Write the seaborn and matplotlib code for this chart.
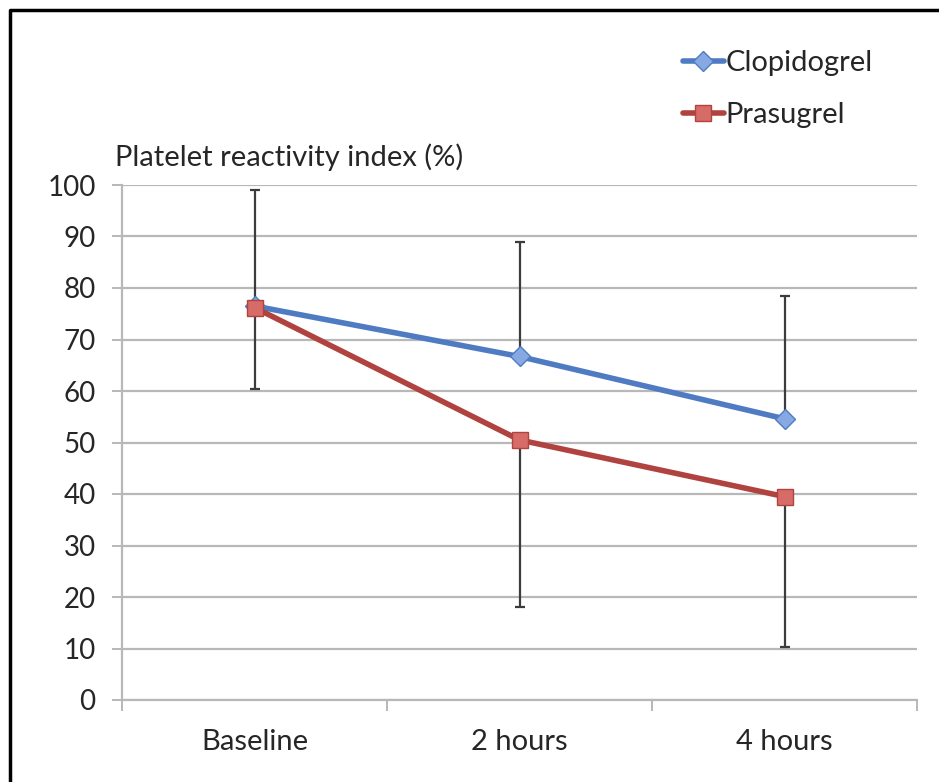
import matplotlib
matplotlib.use("Agg")
import matplotlib.pyplot as plt
from matplotlib.lines import Line2D
from matplotlib.ticker import FixedLocator, NullFormatter
import seaborn as sns
import pandas as pd

# Time points and mean platelet reactivity index (%) per drug
timepoints = ["Baseline", "2 hours", "4 hours"]
clopidogrel = [76.5, 66.7, 54.6]
prasugrel = [76.2, 50.5, 39.5]
# One-sided error bars: upward for clopidogrel, downward for prasugrel
clopidogrel_err_up = [22.5, 22.2, 23.9]
prasugrel_err_down = [15.8, 32.5, 29.3]
yticks = [0, 10, 20, 30, 40, 50, 60, 70, 80, 90, 100]

sns.set_theme(style="white")
plt.rcParams["font.family"] = ["Lato", "DejaVu Sans"]

W, H, DPI = 939, 782, 100
FS = 21
fig = plt.figure(figsize=(W / DPI, H / DPI), dpi=DPI)
ax = fig.add_axes([122 / W, 1 - 700 / H, (917 - 122) / W, (700 - 185) / H])

df = pd.DataFrame({
    "time": timepoints * 2,
    "value": clopidogrel + prasugrel,
    "drug": ["Clopidogrel"] * 3 + ["Prasugrel"] * 3,
})

blue, blue_fill = "#4F7BC3", "#86A8E3"
red, red_fill = "#B0433F", "#D66B67"
err_col = "#3c3c3c"
grid_col = "#b8b8b8"

# Error bars under the lines
ax.errorbar(timepoints, clopidogrel, yerr=[[0, 0, 0], clopidogrel_err_up],
            fmt="none", ecolor=err_col, elinewidth=1.6, capsize=3.5, capthick=1.6, zorder=2)
ax.errorbar(timepoints, prasugrel, yerr=[prasugrel_err_down, [0, 0, 0]],
            fmt="none", ecolor=err_col, elinewidth=1.6, capsize=3.5, capthick=1.6, zorder=2)

sns.lineplot(data=df[df.drug == "Clopidogrel"], x="time", y="value", ax=ax,
             color=blue, linewidth=4, marker="D", markersize=10,
             markerfacecolor=blue_fill, markeredgecolor=blue, markeredgewidth=1,
             sort=False, label="Clopidogrel", zorder=3)
sns.lineplot(data=df[df.drug == "Prasugrel"], x="time", y="value", ax=ax,
             color=red, linewidth=4, marker="s", markersize=12,
             markerfacecolor=red_fill, markeredgecolor=red, markeredgewidth=1,
             sort=False, label="Prasugrel", zorder=4)

# Axes styling
ax.set_xlim(-0.5, 2.5)
ax.set_ylim(0, 100)
ax.set_yticks(yticks)
ax.set_yticklabels([str(v) for v in yticks], fontsize=FS - 1)
ax.xaxis.set_major_locator(FixedLocator([-0.5, 0.5, 1.5, 2.5]))
ax.xaxis.set_major_formatter(NullFormatter())
ax.xaxis.set_minor_locator(FixedLocator([0, 1, 2]))
ax.set_xticklabels(timepoints, minor=True, fontsize=FS)
ax.tick_params(axis="x", which="major", direction="out", length=8, width=1.4,
               color=grid_col, bottom=True)
ax.tick_params(axis="x", which="minor", length=0, pad=21, labelsize=FS)
ax.tick_params(axis="y", direction="out", length=7, width=1.4, color=grid_col,
               left=True, pad=12, labelsize=FS - 1)
ax.set_xlabel("")
ax.set_ylabel("")
ax.grid(axis="y", color=grid_col, linewidth=1.6)
ax.set_axisbelow(True)
for side in ["top", "right"]:
    ax.spines[side].set_visible(False)
for side in ["left", "bottom"]:
    ax.spines[side].set_color(grid_col)
    ax.spines[side].set_linewidth(1.6)

ax.get_legend().remove()
handles = [
    Line2D([], [], color=blue, linewidth=4, marker="D", markersize=10,
           markerfacecolor=blue_fill, markeredgecolor=blue),
    Line2D([], [], color=red, linewidth=4, marker="s", markersize=11,
           markerfacecolor=red_fill, markeredgecolor=red),
]
fig.legend(handles, ["Clopidogrel", "Prasugrel"], loc="center left",
           bbox_to_anchor=(683 / W, 1 - 89 / H), frameon=False, fontsize=FS,
           handlelength=1.4, handletextpad=0.05, labelspacing=0.9, borderpad=0,
           borderaxespad=0)

fig.text(115 / W, 1 - 157 / H, "Platelet reactivity index (%)", fontsize=FS,
         ha="left", va="center")

# Outer frame (left and top edges)
fig.add_artist(Line2D([10 / W, 10 / W, 1], [0, 1 - 10 / H, 1 - 10 / H],
                      transform=fig.transFigure, color="black", linewidth=2.5))

fig.savefig("out.png", dpi=DPI)
